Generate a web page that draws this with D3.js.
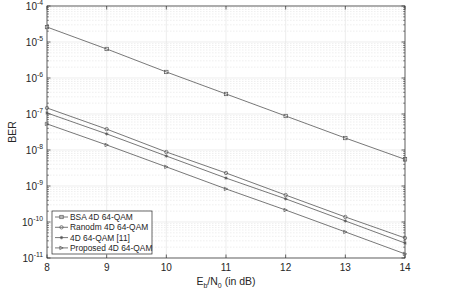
<!DOCTYPE html>
<html>
<head>
<meta charset="utf-8">
<script src="https://cdn.jsdelivr.net/npm/d3@7"></script>
<style>
  body { margin: 0; background: #fff; }
  text { font-family: "Liberation Sans", Arial, sans-serif; }
</style>
</head>
<body>
<svg width="449" height="293"></svg>
<script>
// --- Data ---
const ebn0 = [8, 9, 10, 11, 12, 13, 14];
const berBSA = [2.6e-5, 6.4e-6, 1.47e-6, 3.6e-7, 8.8e-8, 2.15e-8, 5.5e-9];
const berRandom = [1.47e-7, 3.8e-8, 8.8e-9, 2.3e-9, 5.6e-10, 1.38e-10, 3.6e-11];
const ber4D = [1.07e-7, 2.8e-8, 6.8e-9, 1.66e-9, 4.4e-10, 1.07e-10, 2.6e-11];
const berProposed = [5.3e-8, 1.38e-8, 3.4e-9, 8.3e-10, 2.15e-10, 5.3e-11, 1.3e-11];
const seriesNames = ["BSA 4D 64-QAM", "Ranodm 4D 64-QAM", "4D 64-QAM [11]", "Proposed 4D 64-QAM"];
const seriesMarkers = ["square", "circle", "star", "triangle"];
const xTicks = [8, 9, 10, 11, 12, 13, 14];
const yExponents = [-4, -5, -6, -7, -8, -9, -10, -11];

const series = [berBSA, berRandom, ber4D, berProposed].map((v, i) => ({
  name: seriesNames[i], marker: seriesMarkers[i], values: v
}));

// --- Setup ---
const svg = d3.select("svg");
const pLeft = 47, pRight = 405, pTop = 6, pBottom = 258;
const lineColor = "#555";
const axisColor = "#262626";

const x = d3.scaleLinear().domain([8, 14]).range([pLeft, pRight]);
const y = d3.scaleLog().domain([1e-11, 1e-4]).range([pBottom, pTop]);

// --- Grid ---
const grid = svg.append("g");
// minor y grid
yExponents.slice(1).forEach(e => {
  for (let m = 2; m <= 9; m++) {
    const v = m * Math.pow(10, e);
    grid.append("line")
      .attr("x1", pLeft).attr("x2", pRight)
      .attr("y1", y(v)).attr("y2", y(v))
      .attr("stroke", "#e4e4e4").attr("stroke-width", 0.6)
      .attr("stroke-dasharray", "1.5,1.5");
  }
});
// major y grid
yExponents.forEach(e => {
  grid.append("line")
    .attr("x1", pLeft).attr("x2", pRight)
    .attr("y1", y(Math.pow(10, e))).attr("y2", y(Math.pow(10, e)))
    .attr("stroke", "#e6e6e6").attr("stroke-width", 0.7);
});
// major x grid
xTicks.forEach(t => {
  grid.append("line")
    .attr("x1", x(t)).attr("x2", x(t))
    .attr("y1", pTop).attr("y2", pBottom)
    .attr("stroke", "#e6e6e6").attr("stroke-width", 0.7);
});

// --- Axes ---
const axisG = svg.append("g");
axisG.append("rect")
  .attr("x", pLeft).attr("y", pTop)
  .attr("width", pRight - pLeft).attr("height", pBottom - pTop)
  .attr("fill", "none").attr("stroke", axisColor).attr("stroke-width", 0.7);

// x ticks (inside, top and bottom)
xTicks.forEach(t => {
  axisG.append("line").attr("x1", x(t)).attr("x2", x(t))
    .attr("y1", pBottom).attr("y2", pBottom - 3.5)
    .attr("stroke", axisColor).attr("stroke-width", 0.7);
  axisG.append("line").attr("x1", x(t)).attr("x2", x(t))
    .attr("y1", pTop).attr("y2", pTop + 3.5)
    .attr("stroke", axisColor).attr("stroke-width", 0.7);
  axisG.append("text")
    .attr("x", x(t)).attr("y", pBottom + 13)
    .attr("text-anchor", "middle")
    .attr("font-size", "10px").attr("fill", axisColor)
    .text(t);
});

// y ticks
yExponents.forEach(e => {
  const yy = y(Math.pow(10, e));
  [[pLeft, pLeft + 3.5], [pRight, pRight - 3.5]].forEach(([a, b]) => {
    axisG.append("line").attr("x1", a).attr("x2", b)
      .attr("y1", yy).attr("y2", yy)
      .attr("stroke", axisColor).attr("stroke-width", 0.7);
  });
  const lbl = axisG.append("text")
    .attr("x", pLeft - 4).attr("y", yy + 3.5)
    .attr("text-anchor", "end")
    .attr("font-size", "10px").attr("fill", axisColor);
  lbl.append("tspan").text("10");
  lbl.append("tspan").attr("dy", -5).attr("font-size", "6.8px").text(e);
});
// minor y ticks
yExponents.slice(1).forEach(e => {
  for (let m = 2; m <= 9; m++) {
    const yy = y(m * Math.pow(10, e));
    [[pLeft, pLeft + 2], [pRight, pRight - 2]].forEach(([a, b]) => {
      axisG.append("line").attr("x1", a).attr("x2", b)
        .attr("y1", yy).attr("y2", yy)
        .attr("stroke", axisColor).attr("stroke-width", 0.5);
    });
  }
});

// axis labels
const xl = svg.append("text")
  .attr("x", (pLeft + pRight) / 2).attr("y", 285)
  .attr("text-anchor", "middle")
  .attr("font-size", "10.5px").attr("fill", axisColor);
xl.append("tspan").text("E");
xl.append("tspan").attr("dy", 3).attr("font-size", "7px").text("b");
xl.append("tspan").attr("dy", -3).text("/N");
xl.append("tspan").attr("dy", 3).attr("font-size", "7px").text("0");
xl.append("tspan").attr("dy", -3).text(" (in dB)");

svg.append("text")
  .attr("transform", `translate(16,${(pTop + pBottom) / 2}) rotate(-90)`)
  .attr("text-anchor", "middle")
  .attr("font-size", "10.5px").attr("fill", axisColor)
  .text("BER");

// --- Markers ---
function drawMarker(g, type, cx, cy) {
  const s = 1.7;
  if (type === "square") {
    g.append("rect").attr("x", cx - s).attr("y", cy - s)
      .attr("width", 2 * s).attr("height", 2 * s)
      .attr("fill", "none").attr("stroke", lineColor).attr("stroke-width", 0.7);
  } else if (type === "circle") {
    g.append("circle").attr("cx", cx).attr("cy", cy).attr("r", s)
      .attr("fill", "none").attr("stroke", lineColor).attr("stroke-width", 0.7);
  } else if (type === "star") {
    const p = [[-s, 0, s, 0], [0, -s, 0, s], [-s * 0.7, -s * 0.7, s * 0.7, s * 0.7], [-s * 0.7, s * 0.7, s * 0.7, -s * 0.7]];
    p.forEach(([a, b, c, d]) => g.append("line")
      .attr("x1", cx + a).attr("y1", cy + b).attr("x2", cx + c).attr("y2", cy + d)
      .attr("stroke", lineColor).attr("stroke-width", 0.7));
  } else {
    g.append("path")
      .attr("d", `M${cx + s},${cy} L${cx - s},${cy - s} L${cx - s},${cy + s} Z`)
      .attr("fill", "none").attr("stroke", lineColor).attr("stroke-width", 0.7);
  }
}

// --- Lines ---
const line = d3.line().x((d, i) => x(ebn0[i])).y(d => y(d));
const plotG = svg.append("g");
series.forEach(s => {
  plotG.append("path").datum(s.values)
    .attr("d", line)
    .attr("fill", "none").attr("stroke", lineColor).attr("stroke-width", 0.8);
  s.values.forEach((v, i) => drawMarker(plotG, s.marker, x(ebn0[i]), y(v)));
});

// --- Legend ---
const lx = 52, ly = 211, lw = 100, lh = 43;
const legend = svg.append("g");
legend.append("rect")
  .attr("x", lx).attr("y", ly).attr("width", lw).attr("height", lh)
  .attr("fill", "#fff").attr("stroke", axisColor).attr("stroke-width", 0.7);
series.forEach((s, i) => {
  const yy = ly + 6 + i * 10.3;
  legend.append("line").attr("x1", lx + 3).attr("x2", lx + 16)
    .attr("y1", yy).attr("y2", yy)
    .attr("stroke", lineColor).attr("stroke-width", 0.8);
  drawMarker(legend, s.marker, lx + 9.5, yy);
  legend.append("text")
    .attr("x", lx + 18).attr("y", yy + 3)
    .attr("font-size", "8.4px").attr("fill", axisColor)
    .text(s.name);
});
</script>
</body>
</html>
